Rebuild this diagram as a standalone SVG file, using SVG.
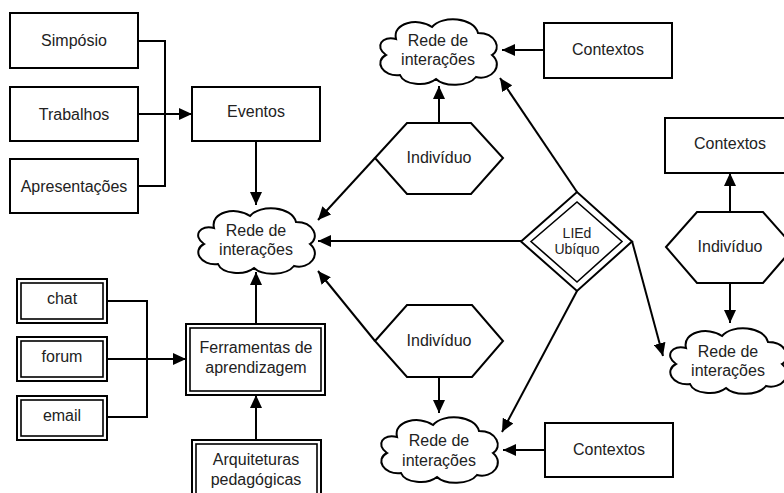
<svg xmlns="http://www.w3.org/2000/svg" xmlns:xlink="http://www.w3.org/1999/xlink" width="784" height="493" viewBox="0 0 784 493">
<style>
.s{fill:#fff;stroke:#000;stroke-width:2}
.d{fill:none;stroke:#000;stroke-width:1.6}
.t{font-family:"Liberation Sans",Arial,sans-serif;font-size:16px;fill:#222;text-anchor:middle}
.c{fill:none;stroke:#000;stroke-width:2}
</style>
<defs>
<marker id="a" markerUnits="userSpaceOnUse" markerWidth="14" markerHeight="12" refX="13" refY="6" orient="auto">
<path d="M0,0 L13,6 L0,12 Z" fill="#000"/>
</marker>
<path id="cloud" d="M22,24 C18,8 44,2 58,12 C68,0 100,2 104,18 C122,18 128,34 118,40 C130,50 118,66 102,62 C94,72 70,72 62,64 C52,72 30,70 26,60 C8,62 0,46 12,40 C0,32 8,20 22,24 Z" fill="#fff" stroke="#000" stroke-width="2"/>
</defs>
<rect width="784" height="493" fill="#fff"/>
<g id="connectors">
<path class="c" d="M138,41 H165 V186 H138"/>
<path class="c" d="M138,114 H192" marker-end="url(#a)"/>
<path class="c" d="M256,141 V205" marker-end="url(#a)"/>
<path class="c" d="M439,123 V86" marker-end="url(#a)"/>
<path class="c" d="M544,50 H502" marker-end="url(#a)"/>
<path class="c" d="M375,158 L318,220" marker-end="url(#a)"/>
<path class="c" d="M521,241 H318" marker-end="url(#a)"/>
<path class="c" d="M577,192 L500,78" marker-end="url(#a)"/>
<path class="c" d="M632,241 L663,356" marker-end="url(#a)"/>
<path class="c" d="M577,291 L502,432" marker-end="url(#a)"/>
<path class="c" d="M375,341 L318,271" marker-end="url(#a)"/>
<path class="c" d="M439,377 V413" marker-end="url(#a)"/>
<path class="c" d="M545,450 H503" marker-end="url(#a)"/>
<path class="c" d="M730,212 V173" marker-end="url(#a)"/>
<path class="c" d="M730,283 V323" marker-end="url(#a)"/>
<path class="c" d="M107,301 H147 V417 H107"/>
<path class="c" d="M107,359 H186" marker-end="url(#a)"/>
<path class="c" d="M256,324 V272" marker-end="url(#a)"/>
<path class="c" d="M256,440 V395" marker-end="url(#a)"/>
</g>
<g id="simposio"><rect class="s" x="10" y="13" width="128" height="55"/><text class="t" x="74" y="46">Simpósio</text></g>
<g id="trabalhos"><rect class="s" x="10" y="87" width="128" height="54"/><text class="t" x="74" y="120">Trabalhos</text></g>
<g id="apresentacoes"><rect class="s" x="10" y="159" width="128" height="54"/><text class="t" x="74" y="192">Apresentações</text></g>
<g id="eventos"><rect class="s" x="192" y="87" width="128" height="54"/><text class="t" x="256" y="117">Eventos</text></g>
<g id="rede-centro"><use xlink:href="#cloud" transform="translate(192,204)"/><text class="t" x="256" y="236">Rede de</text><text class="t" x="256" y="255">interações</text></g>
<g id="rede-topo"><use xlink:href="#cloud" transform="translate(374,15)"/><text class="t" x="438" y="46">Rede de</text><text class="t" x="438" y="65">interações</text></g>
<g id="contextos-topo"><rect class="s" x="544" y="23" width="128" height="55"/><text class="t" x="608" y="55">Contextos</text></g>
<g id="individuo-topo"><polygon class="s" points="375,158 407,123 471,123 503,158 471,194 407,194"/><text class="t" x="439" y="163">Indivíduo</text></g>
<g id="lied"><polygon class="s" points="521,241.5 577,192 632,241.5 577,291"/><polygon class="d" points="531,241.5 577,202 622,241.5 577,282"/><text class="t" x="577" y="238" style="font-size:14px">LIEd</text><text class="t" x="577" y="254" style="font-size:14px">Ubíquo</text></g>
<g id="individuo-baixo"><polygon class="s" points="375,341 407,305 472,305 503,341 472,377 407,377"/><text class="t" x="439" y="346">Indivíduo</text></g>
<g id="rede-baixo"><use xlink:href="#cloud" transform="translate(375,413)"/><text class="t" x="439" y="446">Rede de</text><text class="t" x="439" y="466">interações</text></g>
<g id="contextos-baixo"><rect class="s" x="545" y="423" width="128" height="54"/><text class="t" x="609" y="455">Contextos</text></g>
<g id="contextos-dir"><rect class="s" x="665" y="118" width="128" height="55"/><text class="t" x="730" y="149">Contextos</text></g>
<g id="individuo-dir"><polygon class="s" points="666,247 697,212 763,212 794,247 763,283 697,283"/><text class="t" x="730" y="252">Indivíduo</text></g>
<g id="rede-dir"><use xlink:href="#cloud" transform="translate(664,324)"/><text class="t" x="728" y="357">Rede de</text><text class="t" x="728" y="376">interações</text></g>
<g id="chat"><rect class="s" x="17" y="279" width="90" height="44"/><rect class="d" x="21" y="283" width="82" height="36"/><text class="t" x="62" y="304">chat</text></g>
<g id="forum"><rect class="s" x="17" y="337" width="90" height="44"/><rect class="d" x="21" y="341" width="82" height="36"/><text class="t" x="62" y="362">forum</text></g>
<g id="email"><rect class="s" x="17" y="396" width="90" height="44"/><rect class="d" x="21" y="400" width="82" height="36"/><text class="t" x="62" y="421">email</text></g>
<g id="ferramentas"><rect class="s" x="186" y="324" width="139" height="71"/><rect class="d" x="190" y="328" width="131" height="63"/><text class="t" x="256" y="353">Ferramentas de</text><text class="t" x="256" y="373">aprendizagem</text></g>
<g id="arquiteturas"><rect class="s" x="192" y="440" width="129" height="71"/><rect class="d" x="196" y="444" width="121" height="63"/><text class="t" x="256" y="465">Arquiteturas</text><text class="t" x="256" y="485">pedagógicas</text></g>
</svg>
